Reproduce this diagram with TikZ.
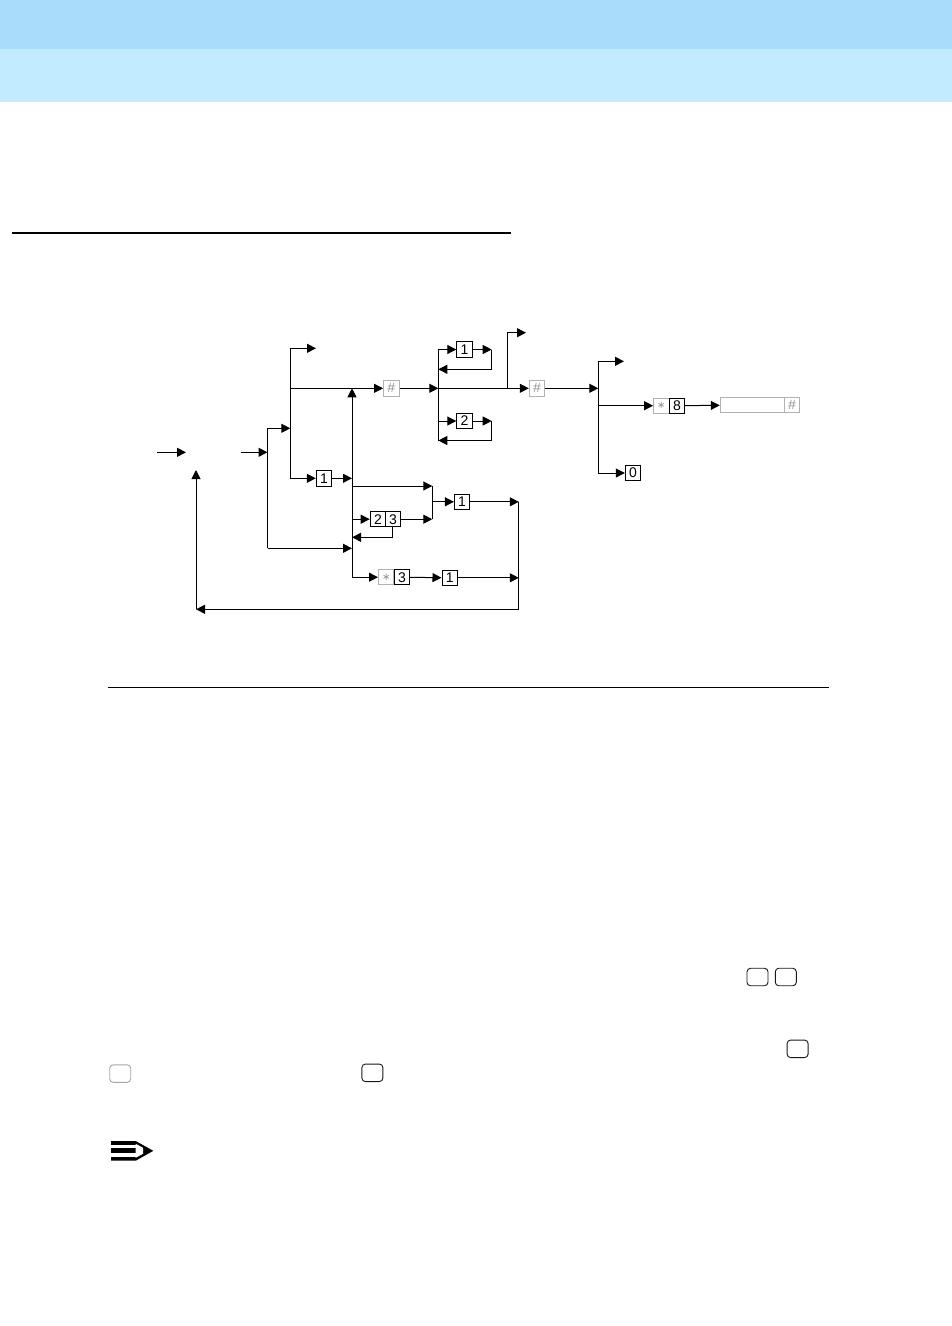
\documentclass[tikz,border=0pt]{standalone}
\usepackage{fontspec}
\setmainfont{Liberation Sans}
\newfontfamily\hashfont{Liberation Mono}
\newfontfamily\starfont{DejaVu Sans}
\usepackage{xcolor}
\usetikzlibrary{arrows.meta}
\definecolor{bandtop}{HTML}{A8DCFA}
\definecolor{bandlow}{HTML}{C2EBFF}

\begin{document}
\begin{tikzpicture}[x=1pt,y=-1pt]
  \tikzstyle{flow} = [-{Triangle[length=9pt,width=9pt]}, line width=1pt, black]
  \tikzstyle{wire} = [line width=1pt, black]
  \tikzstyle{keybox} = [draw=black, line width=1pt, minimum width=15.4pt,
    minimum height=15.4pt, inner sep=0pt, font=\fontsize{14}{14}\selectfont]
  \tikzstyle{softbox} = [keybox, draw=gray!60, text=gray!85]
  \tikzstyle{softkey} = [draw=black!90, line width=0.9pt, rounded corners=3.5pt,
    minimum width=21pt, minimum height=17.5pt, inner sep=0pt]

  \useasboundingbox (0,0) rectangle (952,1326);
  \fill[white] (0,0) rectangle (952,1326);

  % page header and rules
  \fill[bandtop] (0,0) rectangle (952,49);
  \fill[bandlow] (0,49) rectangle (952,102);
  \fill[black] (12,232) rectangle (511,234);
  \fill[black] (108,686.7) rectangle (829,687.7);

  % keys
  \node[softbox] (hashA) at (391.3,388.3) {\hashfont\#};
  \node[keybox] (dialOne) at (324,478.3) {1};
  \node[keybox] (loopOne) at (464.5,349.5) {1};
  \node[keybox] (loopTwo) at (464.5,421) {2};
  \node[softbox] (hashB) at (537,388.3) {\hashfont\#};
  \node[softbox] (starA) at (661.3,405.7) {\starfont\fontsize{10}{10}\selectfont ∗};
  \node[keybox] (eight) at (677,405.7) {8};
  \node[draw=gray!60, line width=1pt, minimum width=64pt, minimum height=15.4pt,
    inner sep=0pt] (entry) at (752.3,405) {};
  \node[softbox] (hashC) at (792,405) {\hashfont\#};
  \node[keybox] (zero) at (633,473) {0};
  \node[keybox] (two) at (377.9,519.2) {2};
  \node[keybox] (three) at (393.1,519.2) {3};
  \node[keybox] (joinOne) at (462.1,501.8) {1};
  \node[softbox] (starB) at (386.2,577.2) {\starfont\fontsize{10}{10}\selectfont ∗};
  \node[keybox] (threeB) at (401.9,577.2) {3};
  \node[keybox] (lastOne) at (449.7,577.8) {1};

  % free ends and corners
  \coordinate (inA) at (157,452.3);
  \coordinate (inAend) at (186,452.3);
  \coordinate (inB) at (241,452.3);
  \coordinate (splitIn) at (267.5,452.3);
  \coordinate (splitTop) at (267.5,428.3);
  \coordinate (splitLow) at (267.5,548.3);
  \coordinate (railIn) at (290.3,428.3);
  \coordinate (railTop) at (290.3,348.3);
  \coordinate (railMid) at (290.3,388.3);
  \coordinate (railLow) at (290.3,478.3);
  \coordinate (exitA) at (316,348.3);
  \coordinate (upTip) at (352,388.3);
  \coordinate (upOne) at (352,478.3);
  \coordinate (upJoin) at (352,486);
  \coordinate (upKeys) at (352,519.2);
  \coordinate (upBack) at (352,537.3);
  \coordinate (upLow) at (352,548.3);
  \coordinate (upEnd) at (352,577.2);
  \coordinate (gateTop) at (432.3,486);
  \coordinate (gateMid) at (432.3,501.8);
  \coordinate (gateLow) at (432.3,519.2);
  \coordinate (backCorner) at (392.3,537.3);
  \coordinate (loopIn) at (438.3,388.3);
  \coordinate (loopTop) at (438.3,349.5);
  \coordinate (loopLow) at (438.3,440.5);
  \coordinate (loopRow) at (438.3,421);
  \coordinate (backOne) at (438.3,369.3);
  \coordinate (turnOne) at (491.7,349.5);
  \coordinate (turnOneLow) at (491.7,369.3);
  \coordinate (turnTwo) at (491.7,421);
  \coordinate (turnTwoLow) at (491.7,440.5);
  \coordinate (branch) at (507.3,388.3);
  \coordinate (branchTop) at (507.3,332.7);
  \coordinate (exitB) at (526,332.7);
  \coordinate (railR) at (598.3,388.3);
  \coordinate (railRTop) at (598.3,361.3);
  \coordinate (railRMid) at (598.3,405.7);
  \coordinate (railRLow) at (598.3,473);
  \coordinate (exitC) at (624,361.3);
  \coordinate (mergeTop) at (518.8,501.8);
  \coordinate (mergeMid) at (518.8,577.8);
  \coordinate (mergeLow) at (518.8,609.3);
  \coordinate (retCorner) at (196,609.3);
  \coordinate (retTip) at (196,470);

  % left part
  \draw[flow] (inA) -- (inAend);
  \draw[flow] (inB) -- (splitIn);
  \draw[wire] (splitTop) -- (splitLow);
  \draw[flow] (splitTop) -- (railIn);
  \draw[flow] (splitLow) -- (upLow);
  \draw[flow] (railTop) -- (exitA);
  \draw[wire] (railTop) -- (railLow);
  \draw[flow] (railMid) -- (hashA);
  \draw[flow] (railLow) -- (dialOne);
  \draw[flow] (dialOne) -- (upOne);
  \draw[flow] (upEnd) -- (upTip);
  \draw[flow] (upJoin) -- (gateTop);
  \draw[flow] (upKeys) -- (two);
  \draw[flow] (three) -- (gateLow);
  \draw[wire] (gateTop) -- (gateLow);
  \draw[flow] (gateMid) -- (joinOne);
  \draw[flow] (three.south -| backCorner) -- (backCorner) -- (upBack);
  \draw[flow] (upEnd) -- (starB);
  \draw[flow] (threeB) -- (lastOne);

  % upper loops
  \draw[flow] (hashA) -- (loopIn);
  \draw[wire] (loopTop) -- (loopLow);
  \draw[flow] (loopTop) -- (loopOne);
  \draw[flow] (loopOne) -- (turnOne);
  \draw[flow] (turnOne) -- (turnOneLow) -- (backOne);
  \draw[flow] (loopRow) -- (loopTwo);
  \draw[flow] (loopTwo) -- (turnTwo);
  \draw[flow] (turnTwo) -- (turnTwoLow) -- (loopLow);
  \draw[flow] (loopIn) -- (hashB);
  \draw[flow] (branch) -- (branchTop) -- (exitB);

  % right part
  \draw[flow] (hashB) -- (railR);
  \draw[wire] (railRTop) -- (railRLow);
  \draw[flow] (railRTop) -- (exitC);
  \draw[flow] (railRMid) -- (starA);
  \draw[flow] (eight) -- (entry);
  \draw[flow] (railRLow) -- (zero);

  % return path
  \draw[flow] (joinOne) -- (mergeTop);
  \draw[flow] (lastOne) -- (mergeMid);
  \draw[wire] (mergeTop) -- (mergeLow);
  \draw[flow] (mergeLow) -- (retCorner);
  \draw[flow] (retCorner) -- (retTip);

  % softkeys in the body text
  \node[softkey] (keyA) at (757.5,977) {};
  \node[softkey] (keyB) at (785.8,977) {};
  \node[softkey] (keyC) at (797.6,1048.8) {};
  \node[softkey, draw=gray!70] (keyD) at (120.2,1073.6) {};
  \node[softkey] (keyE) at (372.4,1072.8) {};

  % note icon
  \fill[black] (111,1141) -- (135.7,1141) -- (153.3,1150.8) -- (135.7,1160.7)
    -- (111,1160.7) -- cycle;
  \fill[white] (111,1145) rectangle (136,1148.3);
  \fill[white] (111,1152.7) rectangle (136,1156.7);
  \fill[white] (135.7,1143.8) -- (143,1147.8) -- (143,1153.8) -- (135.7,1157.8) -- cycle;
\end{tikzpicture}
\end{document}
